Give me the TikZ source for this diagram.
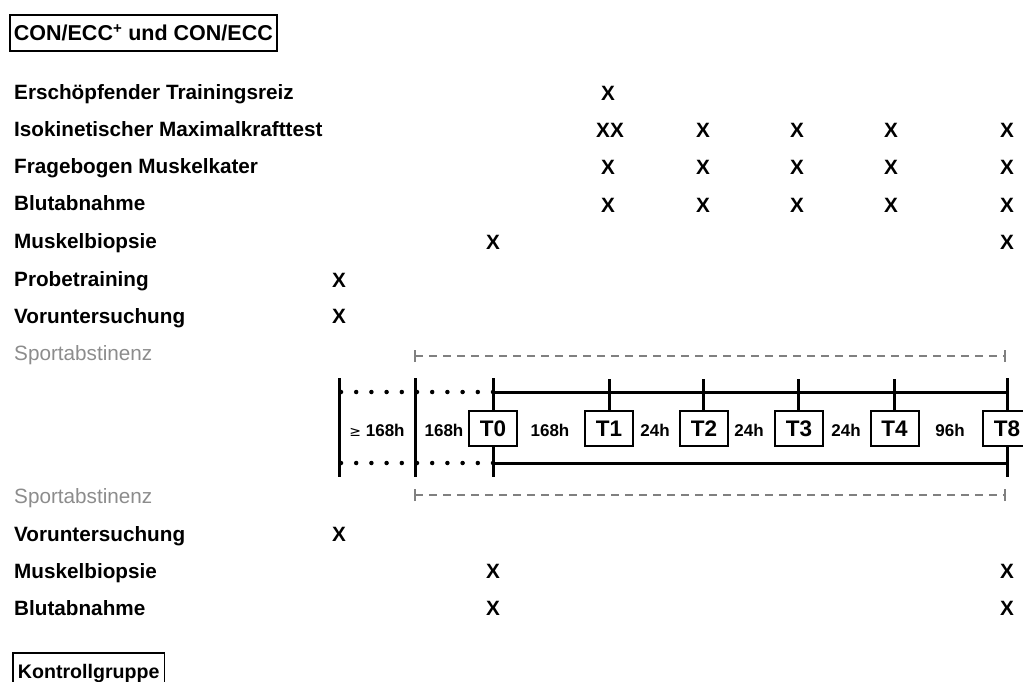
\documentclass[tikz,border=0pt]{standalone}
\usepackage{fontspec}
\setmainfont{Liberation Sans}
\newfontfamily\symfont{DejaVu Sans}
\definecolor{softgray}{RGB}{140,140,140}
\definecolor{dashgray}{RGB}{128,128,128}
\tikzset{
  rowlbl/.style={anchor=base west, inner sep=0pt, font=\bfseries\fontsize{20.7}{24}\selectfont},
  graylbl/.style={anchor=base west, inner sep=0pt, text=softgray, font=\fontsize{20.7}{24}\selectfont},
  xmk/.style={anchor=base, inner sep=0pt, font=\bfseries\fontsize{20.7}{24}\selectfont},
  headbox/.style={draw, line width=1.8pt, anchor=base west, inner xsep=4pt, inner ysep=0pt,
    text height=26pt, text depth=10pt, font=\bfseries\fontsize{21.5}{24}\selectfont},
  tbox/.style={draw, line width=2pt, fill=white, minimum width=48pt, minimum height=35pt,
    inner sep=0pt, font=\bfseries\fontsize{22.5}{26}\selectfont},
  dur/.style={inner sep=1pt, font=\bfseries\fontsize{17}{20}\selectfont},
  bar/.style={line width=3pt},
  dotline/.style={line width=4.5pt, line cap=round, dash pattern=on 0pt off 15.2pt},
  abst/.style={draw=dashgray, line width=2pt, dash pattern=on 8pt off 6pt},
  abstend/.style={draw=dashgray, line width=2pt}
}
\begin{document}
\begin{tikzpicture}[x=1pt,y=-1pt]
\useasboundingbox (0,0) rectangle (1023,682);

% group headings
\node[headbox] (head) at (9,41) {CON/ECC\textsuperscript{+} und CON/ECC};
\node[headbox, text height=25pt, inner xsep=5pt, font=\bfseries\fontsize{19.6}{22}\selectfont] (ctrl) at (12,678) {Kontrollgruppe};

% upper block: intervention group
\node[rowlbl] (r1) at (14,100) {Erschöpfender Trainingsreiz};
\node[rowlbl] (r2) at (14,137) {Isokinetischer Maximalkrafttest};
\node[rowlbl] (r3) at (14,174) {Fragebogen Muskelkater};
\node[rowlbl] (r4) at (14,211) {Blutabnahme};
\node[rowlbl] (r5) at (14,248) {Muskelbiopsie};
\node[rowlbl] (r6) at (14,286) {Probetraining};
\node[rowlbl] (r7) at (14,323) {Voruntersuchung};
\node[graylbl] (r8) at (14,360) {Sportabstinenz};

\node[xmk] (x11) at (608,101) {X};
\node[xmk] (x21) at (610,138) {XX};
\foreach \c/\xx in {2/703,3/797,4/891,5/1007}{
  \node[xmk] (x2\c) at (\xx,138) {X};
}
\foreach \c/\xx in {1/608,2/703,3/797,4/891,5/1007}{
  \node[xmk] (x3\c) at (\xx,175) {X};
  \node[xmk] (x4\c) at (\xx,212) {X};
}
\node[xmk] (x50) at (493,249) {X};
\node[xmk] (x55) at (1007,249) {X};
\node[xmk] (x6) at (339,287) {X};
\node[xmk] (x7) at (339,323) {X};

% abstinence periods
\coordinate (aA) at (415,356);
\coordinate (aB) at (1005,356);
\draw[abst] (aA) -- (aB);
\draw[abstend] ([yshift=-6pt]aA) -- ([yshift=6pt]aA);
\draw[abstend] ([yshift=-6pt]aB) -- ([yshift=6pt]aB);

\coordinate (bA) at (415,495);
\coordinate (bB) at (1005,495);
\draw[abst] (bA) -- (bB);
\draw[abstend] ([yshift=-6pt]bA) -- ([yshift=6pt]bA);
\draw[abstend] ([yshift=-6pt]bB) -- ([yshift=6pt]bB);

% timeline frame
\coordinate (L1t) at (339,378); \coordinate (L1b) at (339,477);
\coordinate (L2t) at (415,378); \coordinate (L2b) at (415,477);
\coordinate (Dt) at (341,392);  \coordinate (Db) at (341,463);
\coordinate (S0t) at (493,392); \coordinate (S0b) at (493,463);
\coordinate (S8t) at (1007,392); \coordinate (S8b) at (1007,463);

\draw[bar] (L1t) -- (L1b);
\draw[bar] (L2t) -- (L2b);
\draw[dotline] (Dt) -- (S0t);
\draw[dotline] (Db) -- (S0b);
\draw[bar] (S0t) -- (S8t);
\draw[bar] (S0b) -- (S8b);

% time point markers
\coordinate (k0t) at (493,378); \coordinate (k0b) at (493,477);
\coordinate (k8t) at (1007,378); \coordinate (k8b) at (1007,477);
\draw[bar] (k0t) -- (k0b);
\draw[bar] (k8t) -- (k8b);
\foreach \n/\xx in {1/609,2/703,3/798,4/894}{
  \coordinate (k\n t) at (\xx,379);
  \coordinate (k\n b) at (\xx,412);
  \draw[bar] (k\n t) -- (k\n b);
}

\node[tbox] (T0) at (493,428.5) {T0};
\node[tbox] (T1) at (609,428.5) {T1};
\node[tbox] (T2) at (704,428.5) {T2};
\node[tbox] (T3) at (799,428.5) {T3};
\node[tbox] (T4) at (894.5,428.5) {T4};
\node[tbox] (T8) at (1007,428.5) {T8};

% intervals
\node[dur] (d0) at (377,430) {{\symfont\mdseries\fontsize{14}{16}\selectfont ≥} 168h};
\node[dur] (d1) at (444,430) {168h};
\node[dur] (d2) at (550,430) {168h};
\node[dur] (d3) at (655,430) {24h};
\node[dur] (d4) at (749,430) {24h};
\node[dur] (d5) at (846,430) {24h};
\node[dur] (d6) at (950,430) {96h};

% lower block: control group
\node[graylbl] (c1) at (14,503) {Sportabstinenz};
\node[rowlbl] (c2) at (14,541) {Voruntersuchung};
\node[rowlbl] (c3) at (14,578) {Muskelbiopsie};
\node[rowlbl] (c4) at (14,615) {Blutabnahme};
\node[xmk] (y2) at (339,541) {X};
\node[xmk] (y30) at (493,578) {X};
\node[xmk] (y35) at (1007,578) {X};
\node[xmk] (y40) at (493,615) {X};
\node[xmk] (y45) at (1007,615) {X};
\end{tikzpicture}
\end{document}
